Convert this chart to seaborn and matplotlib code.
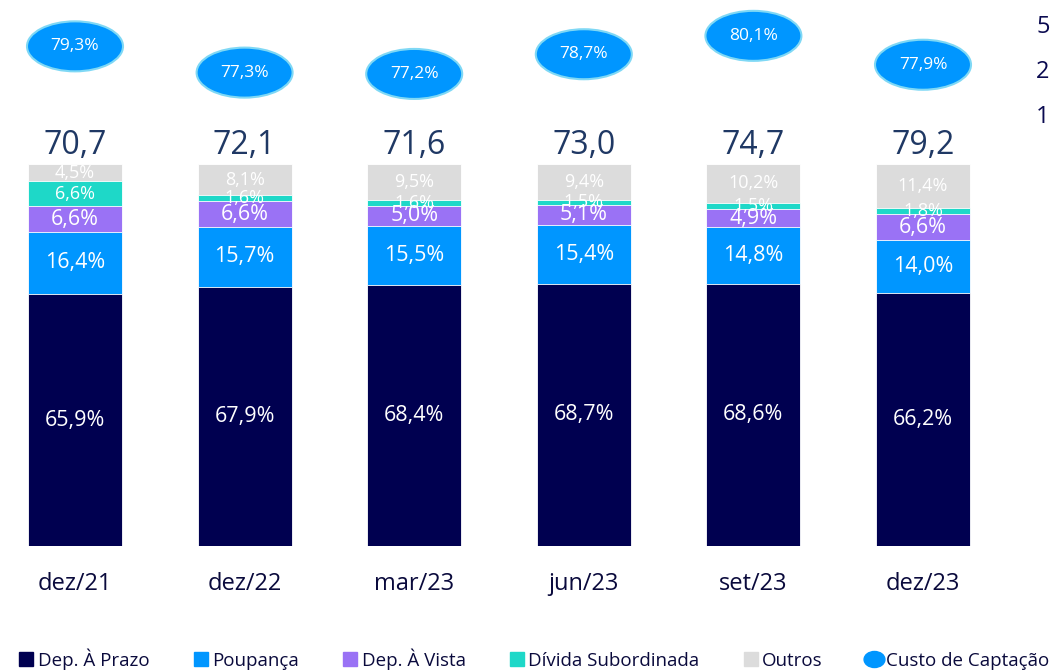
import matplotlib
matplotlib.use('Agg')
import matplotlib.pyplot as plt
from matplotlib.patches import Ellipse
from matplotlib.lines import Line2D
from matplotlib.path import Path
import seaborn as sns
import numpy as np
import pandas as pd

# data
periods = ["dez/21", "dez/22", "mar/23", "jun/23", "set/23", "dez/23"]
dep_prazo = [65.9, 67.9, 68.4, 68.7, 68.6, 66.2]
poupanca = [16.4, 15.7, 15.5, 15.4, 14.8, 14.0]
dep_vista = [6.6, 6.6, 5.0, 5.1, 4.9, 6.6]
divida_sub = [6.6, 1.6, 1.6, 1.5, 1.5, 1.8]
outros = [4.5, 8.1, 9.5, 9.4, 10.2, 11.4]
totals = [70.7, 72.1, 71.6, 73.0, 74.7, 79.2]
custo = [79.3, 77.3, 77.2, 78.7, 80.1, 77.9]

series = ["Dep. À Prazo", "Poupança", "Dep. À Vista", "Dívida Subordinada", "Outros"]
colors = ["#000050", "#0096FF", "#9A72F5", "#1ED8C8", "#DCDCDC"]
label_sizes = [15.5, 15.5, 15.5, 13, 13]

sns.set_theme(style="white")
plt.rcParams['font.family'] = ['Open Sans', 'DejaVu Sans']

df = pd.DataFrame({
    "period": periods,
    series[0]: dep_prazo,
    series[1]: poupanca,
    series[2]: dep_vista,
    series[3]: divida_sub,
    series[4]: outros,
})

fig = plt.figure(figsize=(10.53, 6.70), dpi=100)
ax = fig.add_axes([0, 124 / 670, 1, 546 / 670])

# stacked bars: draw cumulative heights from top layer down
cum = df[series].cumsum(axis=1)
for s, c in reversed(list(zip(series, colors))):
    sns.barplot(x=df["period"], y=cum[s], color=c, width=0.554, ax=ax,
                edgecolor="white", linewidth=0.6, saturation=1)

# segment labels
for i in range(len(periods)):
    bottom = 0
    for s, fs in zip(series, label_sizes):
        v = df[s].iloc[i]
        ax.text(i, bottom + v / 2, f"{v:.1f}%".replace(".", ","), ha="center",
                va="center", color="white", fontsize=fs)
        bottom += v
    ax.text(i, 100.4, f"{totals[i]:.1f}".replace(".", ","), ha="center",
            va="bottom", color="#1F3864", fontsize=23)

ax.set_xlim(-75 / 169.6, (1053 - 75) / 169.6)
ax.set_ylim(0, 100 * 546 / 382)
ax.axis("off")

# cost of funding ellipses on a secondary scale
ax2 = ax.twinx()
ax2.set_ylim(41.25, 82.83)
ax2.axis("off")
for i, v in enumerate(custo):
    ax2.add_patch(Ellipse((i, v), 0.566, 50 / 13.13, facecolor="#0096FF",
                          edgecolor="#7FD8F5", linewidth=1.5, zorder=3))
    ax2.text(i, v, f"{v:.1f}%".replace(".", ","), ha="center", va="center",
             color="white", fontsize=12.5, zorder=4)

# category labels
for i, p in enumerate(periods):
    fig.text(75 / 1053 + i * 169.6 / 1053, 1 - 584 / 670, p, ha="center",
             va="center", color="#0A0A3C", fontsize=17)

# cut-off text at the right edge
for y, t in [(27, "5"), (72, "2"), (117, "1")]:
    fig.text(1036 / 1053, 1 - y / 670, t, ha="left", va="center",
             color="#0A0A50", fontsize=17)

# legend
ell = Path(Path.unit_circle().vertices * np.array([1.3, 1.0]), Path.unit_circle().codes)
handles = [Line2D([], [], marker="s", color=c, linestyle="", markersize=10) for c in colors]
handles.append(Line2D([], [], marker=ell, color="#0096FF", linestyle="", markersize=15))
fig.legend(handles, series + ["Custo de Captação"], loc="center left",
           bbox_to_anchor=(0.0, 1 - 659 / 670), ncol=6, frameon=False,
           fontsize=13.5, handletextpad=0.1, columnspacing=2.25, handlelength=1.0,
           labelcolor="#0A0A3C")

fig.savefig("out.png", dpi=100)
